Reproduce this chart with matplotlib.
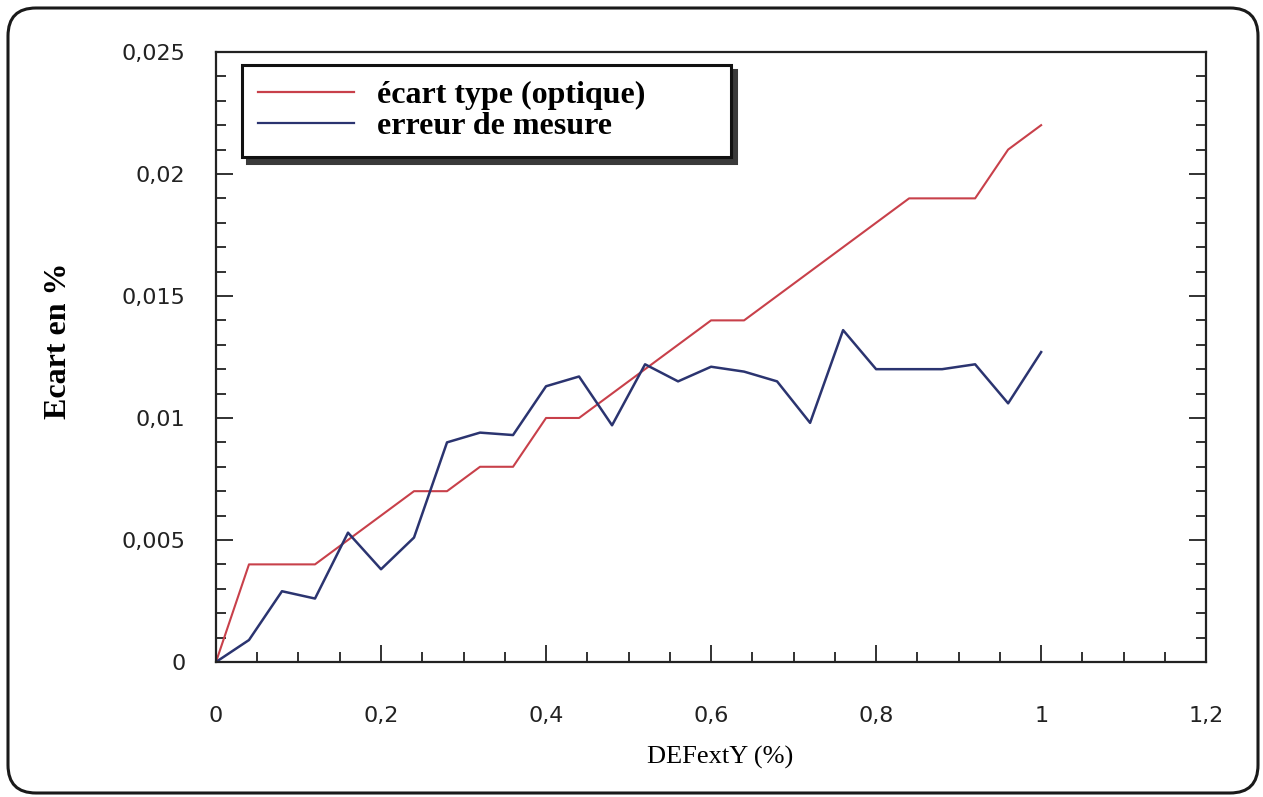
import matplotlib
matplotlib.use("Agg")
import matplotlib.pyplot as plt
from matplotlib.patches import FancyBboxPatch
from matplotlib.transforms import IdentityTransform
from matplotlib.ticker import MultipleLocator, FuncFormatter

# DEFextY steps and the two measured curves
defext_y = [0, 0.04, 0.08, 0.12, 0.16, 0.20, 0.24, 0.28, 0.32, 0.36, 0.40, 0.44, 0.48,
            0.52, 0.56, 0.60, 0.64, 0.68, 0.72, 0.76, 0.80, 0.84, 0.88, 0.92, 0.96, 1.0]
ecart_type = [0, 0.004, 0.004, 0.004, 0.005, 0.006, 0.007, 0.007, 0.008, 0.008, 0.010, 0.010, 0.011,
              0.012, 0.013, 0.014, 0.014, 0.015, 0.016, 0.017, 0.018, 0.019, 0.019, 0.019, 0.021, 0.022]
erreur_mesure = [0, 0.0009, 0.0029, 0.0026, 0.0053, 0.0038, 0.0051, 0.0090, 0.0094, 0.0093, 0.0113, 0.0117, 0.0097,
                 0.0122, 0.0115, 0.0121, 0.0119, 0.0115, 0.0098, 0.0136, 0.0120, 0.0120, 0.0120, 0.0122, 0.0106, 0.0127]

labels = ["écart type (optique)", "erreur de mesure"]
colors = ["#c8404a", "#2b3470"]

fig = plt.figure(figsize=(12.63, 7.97), dpi=100)
ax = fig.add_axes([0.171, 0.1694, 0.784, 0.7654])

ax.plot(defext_y, ecart_type, color=colors[0], lw=1.5, label=labels[0])
ax.plot(defext_y, erreur_mesure, color=colors[1], lw=1.8, label=labels[1])

ax.set_xlim(0, 1.2)
ax.set_ylim(0, 0.025)
ax.xaxis.set_major_locator(MultipleLocator(0.2))
ax.xaxis.set_minor_locator(MultipleLocator(0.05))
ax.yaxis.set_major_locator(MultipleLocator(0.005))
ax.yaxis.set_minor_locator(MultipleLocator(0.001))

fmt = FuncFormatter(lambda v, pos: f"{v:.10g}".replace(".", ","))
ax.xaxis.set_major_formatter(fmt)
ax.yaxis.set_major_formatter(fmt)

for side in ax.spines.values():
    side.set_linewidth(1.6)
    side.set_color("#222222")

ax.tick_params(which="both", direction="in", top=False, right=True, width=1.3, color="#222222")
ax.tick_params(which="major", length=12)
ax.tick_params(which="minor", length=7)
ax.tick_params(axis="x", which="major", pad=32, labelsize=16, labelcolor="#222222")
ax.tick_params(axis="y", which="major", pad=22, labelsize=16, labelcolor="#222222")
for lab in ax.get_xticklabels() + ax.get_yticklabels():
    lab.set_family("DejaVu Sans")

ax.set_xlabel("DEFextY (%)", family="Liberation Serif", fontsize=19)
ax.xaxis.set_label_coords(0.509, -0.137)
ax.set_ylabel("Ecart en %", family="Liberation Serif", fontsize=23, fontweight="bold")
ax.yaxis.set_label_coords(-0.144, 0.526)

leg = ax.legend(loc="upper left", bbox_to_anchor=(0.026, 0.0, 0.494, 0.979), mode="expand",
                borderaxespad=0, fancybox=False, framealpha=1, edgecolor="#111111",
                prop={"family": "Liberation Serif", "weight": "bold", "size": 23},
                handlelength=3.0, handletextpad=0.75, labelspacing=0.05, borderpad=0.5,
                shadow={"ox": 4, "oy": -4, "color": "#3a3a3a", "alpha": 1})
leg.get_frame().set_linewidth(2.2)
for h in leg.get_lines():
    h.set_linewidth(1.6)

# rounded frame around the whole figure
frame = FancyBboxPatch((8, 4), 1250, 785, boxstyle="round,pad=0,rounding_size=28",
                       transform=IdentityTransform(), facecolor="none",
                       edgecolor="#1a1a1a", linewidth=2.2)
fig.patches.append(frame)

fig.savefig("out.png", dpi=100)
